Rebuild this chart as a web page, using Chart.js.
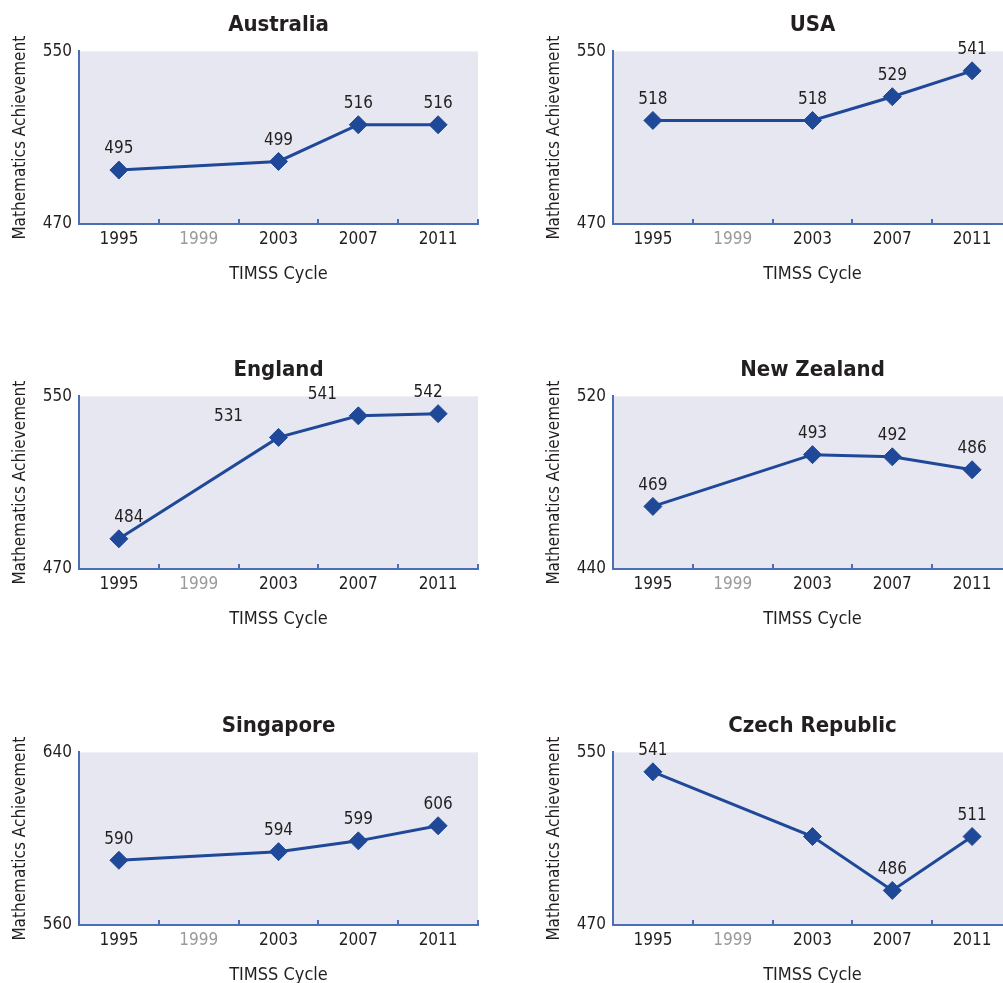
<!DOCTYPE html>
<html><head><meta charset="utf-8">
<script src="https://cdn.jsdelivr.net/npm/chart.js@4.4.1/dist/chart.umd.min.js"></script>
<style>
html,body{margin:0;padding:0;background:#fff;overflow:hidden;}
#wrap{position:relative;width:1003px;height:983px;overflow:hidden;background:#fff;}
.cell{position:absolute;width:534px;height:294px;}
.cell canvas{display:block;}
</style></head><body><div id="wrap">
<div class="cell" style="left:0;top:0"><canvas id="c0" width="534" height="294"></canvas></div>
<div class="cell" style="left:534px;top:0"><canvas id="c1" width="534" height="294"></canvas></div>
<div class="cell" style="left:0;top:345px"><canvas id="c2" width="534" height="294"></canvas></div>
<div class="cell" style="left:534px;top:345px"><canvas id="c3" width="534" height="294"></canvas></div>
<div class="cell" style="left:0;top:701px"><canvas id="c4" width="534" height="294"></canvas></div>
<div class="cell" style="left:534px;top:701px"><canvas id="c5" width="534" height="294"></canvas></div>
</div>
<script>
// ---- data ----
const cycles = ['1995', '1999', '2003', '2007', '2011'];
const australia = [495, null, 499, 516, 516];
const usa = [518, null, 518, 529, 541];
const england = [484, null, 531, 541, 542];
const newZealand = [469, null, 493, 492, 486];
const singapore = [590, null, 594, 599, 606];
const czechRepublic = [541, null, 511, 486, 511];
const czechShownLabels = ['541', '', '', '486', '511'];
const australiaTicks = [470, 550];
const usaTicks = [470, 550];
const englandTicks = [470, 550];
const newZealandTicks = [440, 520];
const singaporeTicks = [560, 640];
const czechTicks = [470, 550];

// ---- style ----
const FONT = '"Liberation Sans Narrow", "DejaVu Sans Condensed", "Liberation Sans", sans-serif';
const TEXT = '#231f20';
const GREY = '#9a9a9a';
const LINE = '#1f4898';
const AXIS = '#4b6fb6';
const PLOT_BG = '#e6e7f1';

const plotBg = {
  id: 'plotBg',
  beforeDraw(chart) {
    const a = chart.chartArea, ctx = chart.ctx;
    ctx.save();
    ctx.fillStyle = PLOT_BG;
    ctx.fillRect(a.left, a.top, a.right - a.left, a.bottom - a.top);
    ctx.restore();
  }
};

function valueLabels(texts, dx) {
  return {
    id: 'valueLabels',
    afterDatasetsDraw(chart) {
      const meta = chart.getDatasetMeta(0);
      const ctx = chart.ctx;
      ctx.save();
      ctx.font = '17px ' + FONT;
      ctx.fillStyle = TEXT;
      ctx.textAlign = 'center';
      ctx.textBaseline = 'middle';
      meta.data.forEach((pt, i) => {
        const t = texts[i];
        if (!t) return;
        ctx.fillText(t, pt.x + (dx ? dx[i] : 0), pt.y - 21);
      });
      ctx.restore();
    }
  };
}

function makeChart(id, title, values, ticks, texts, dx) {
  const labelTexts = texts || values.map(v => v == null ? '' : String(v));
  new Chart(document.getElementById(id), {
    type: 'line',
    data: {
      labels: cycles,
      datasets: [{
        data: values,
        borderColor: LINE,
        backgroundColor: LINE,
        borderWidth: 3,
        pointStyle: 'rectRot',
        pointRadius: 9,
        pointHoverRadius: 9,
        pointBorderWidth: 1,
        pointBackgroundColor: LINE,
        pointBorderColor: LINE,
        spanGaps: true,
        tension: 0,
        clip: false
      }]
    },
    options: {
      responsive: false,
      animation: false,
      events: [],
      layout: { padding: { top: 11, right: 56, left: 0, bottom: 0 } },
      plugins: {
        legend: { display: false },
        tooltip: { enabled: false },
        title: {
          display: true, text: title, fullSize: false,
          font: { family: FONT, size: 22, weight: 'bold', lineHeight: 1.2 },
          color: TEXT, padding: { top: 1, bottom: 13 }
        }
      },
      scales: {
        x: {
          type: 'category',
          offset: true,
          grid: { offset: true, drawOnChartArea: false, drawTicks: true, tickLength: -5, color: AXIS, lineWidth: 2 },
          border: { display: true, color: AXIS, width: 2 },
          ticks: {
            padding: 10, autoSkip: false, maxRotation: 0,
            font: { family: FONT, size: 17 },
            color: c => c.index === 1 ? GREY : TEXT
          },
          title: {
            display: true, text: 'TIMSS Cycle',
            font: { family: FONT, size: 18, lineHeight: 1.2 },
            color: TEXT, padding: { top: 0, bottom: 9 }
          },
          afterFit(s) { s.height = 70; }
        },
        y: {
          min: ticks[0], max: ticks[ticks.length - 1],
          afterBuildTicks(s) { s.ticks = ticks.map(v => ({ value: v })); },
          grid: { display: true, drawOnChartArea: false, drawTicks: false },
          border: { display: true, color: AXIS, width: 2 },
          ticks: { padding: 7, font: { family: FONT, size: 17 }, color: TEXT },
          title: {
            display: true, text: 'Mathematics Achievement',
            font: { family: FONT, size: 17, lineHeight: 1.2 },
            color: TEXT, padding: { top: 10, bottom: 0 }
          },
          afterFit(s) { s.width = 79; }
        }
      }
    },
    plugins: [plotBg, valueLabels(labelTexts, dx)]
  });
}

makeChart('c0', 'Australia', australia, australiaTicks);
makeChart('c1', 'USA', usa, usaTicks);
makeChart('c2', 'England', england, englandTicks, null, [10, 0, -50, -36, -10]);
makeChart('c3', 'New Zealand', newZealand, newZealandTicks);
makeChart('c4', 'Singapore', singapore, singaporeTicks);
makeChart('c5', 'Czech Republic', czechRepublic, czechTicks, czechShownLabels);
</script>
</body></html>
